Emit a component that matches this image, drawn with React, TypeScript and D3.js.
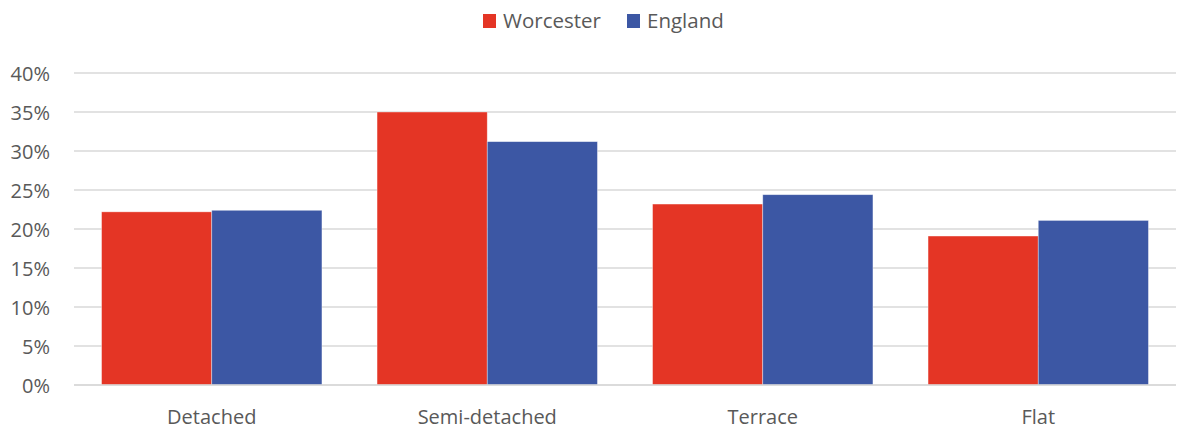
import React from "react";
import * as d3 from "d3";

const categories = ["Detached", "Semi-detached", "Terrace", "Flat"];
const seriesNames = ["Worcester", "England"];
const worcester = [22.2, 35.0, 23.2, 19.1];
const england = [22.4, 31.2, 24.4, 21.1];
const yTicks = [0, 5, 10, 15, 20, 25, 30, 35, 40];
const colors = ["#E43525", "#3C57A4"];

const W = 1178;
const H = 430;
const margin = { left: 74, right: 2, top: 73, bottom: 45 };
const FONT = "'Open Sans', sans-serif";
const TEXT = "#595959";

export default function App() {
  const x = d3
    .scaleBand<string>()
    .domain(categories)
    .range([margin.left, W - margin.right])
    .paddingInner(0.2)
    .paddingOuter(0.1);
  const x1 = d3.scaleBand<string>().domain(seriesNames).range([0, x.bandwidth()]).padding(0);
  const y = d3.scaleLinear().domain([0, 40]).range([H - margin.bottom, margin.top]);
  const values = [worcester, england];

  return (
    <svg width={W} height={H} style={{ position: "absolute", left: 0, top: 0, background: "#fff" }}>
      {yTicks.map((t) => (
        <g key={t}>
          <line x1={margin.left} x2={W - margin.right} y1={y(t)} y2={y(t)} stroke="#D9D9D9" strokeWidth={1.5} />
          <text x={50} y={y(t) + 7.5} textAnchor="end" fontFamily={FONT} fontSize={20} fill={TEXT}>
            {t}%
          </text>
        </g>
      ))}
      {categories.map((c, i) => (
        <g key={c}>
          {seriesNames.map((s, j) => (
            <rect
              key={s}
              x={(x(c) as number) + (x1(s) as number)}
              y={y(values[j][i])}
              width={x1.bandwidth()}
              height={y(0) - y(values[j][i])}
              fill={colors[j]}
              stroke="#ffffff"
              strokeOpacity={0.5}
              strokeWidth={0.75}
            />
          ))}
          <text
            x={(x(c) as number) + x.bandwidth() / 2}
            y={424}
            textAnchor="middle"
            fontFamily={FONT}
            fontSize={20}
            fill={TEXT}
          >
            {c}
          </text>
        </g>
      ))}
      <line x1={margin.left} x2={W - margin.right} y1={y(0)} y2={y(0)} stroke="#D9D9D9" strokeWidth={1.5} />
      {seriesNames.map((s, j) => {
        const lx = [483, 627][j];
        return (
          <g key={s}>
            <rect x={lx} y={14} width={13} height={14} fill={colors[j]} />
            <text x={lx + 20} y={28} fontFamily={FONT} fontSize={20.5} fill={TEXT}>
              {s}
            </text>
          </g>
        );
      })}
    </svg>
  );
}
